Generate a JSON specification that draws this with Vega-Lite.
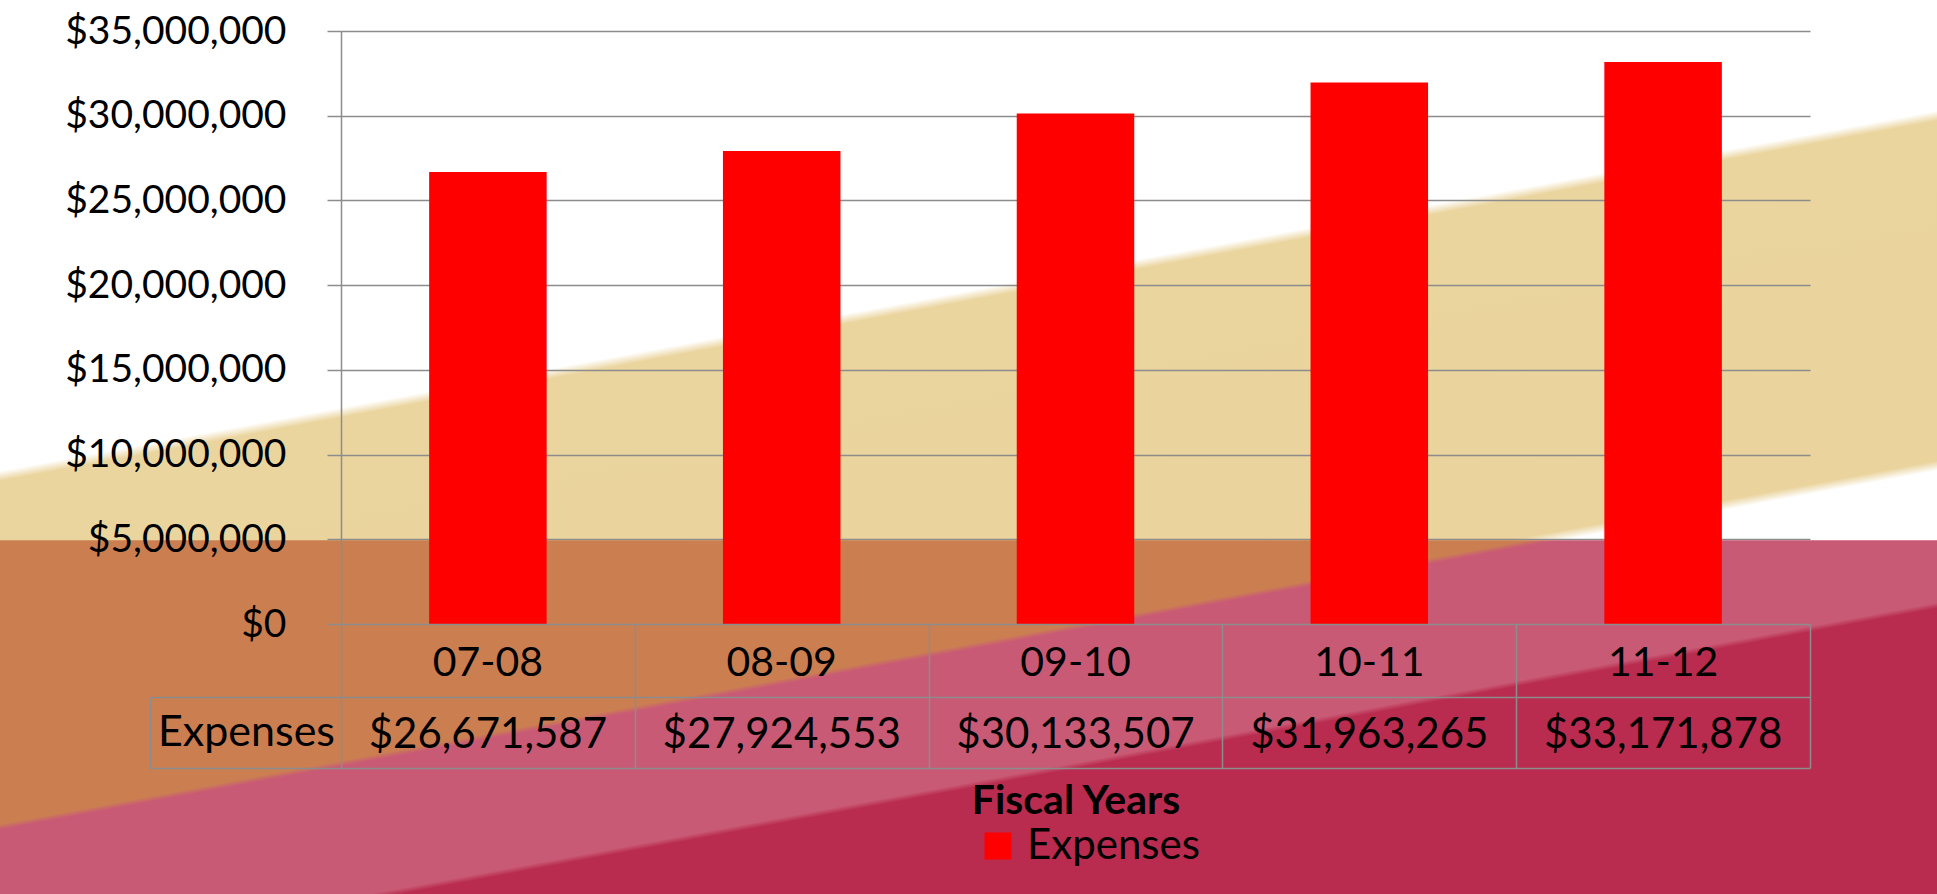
{
  "$schema": "https://vega.github.io/schema/vega-lite/v6.json",
  "width": 1937,
  "height": 894,
  "autosize": {"type": "none"},
  "padding": 0,
  "background": "#FFFFFF",
  "view": {
    "stroke": null,
    "fill": {
      "gradient": "linear",
      "x1": 0, "y1": 0, "x2": 0.4864, "y2": 1.2069,
      "stops": [
        {"offset": 0, "color": "#FFFFFF"},
        {"offset": 0.3755, "color": "#FFFFFF"},
        {"offset": 0.3835, "color": "#EBD59F"},
        {"offset": 0.6545, "color": "#EAD39C"},
        {"offset": 0.6625, "color": "#FFFFFF"},
        {"offset": 1, "color": "#FFFFFF"}
      ]
    }
  },
  "config": {"font": "Lato"},
  "data": {
    "values": [
      {"year": "07-08", "expenses": 26671587},
      {"year": "08-09", "expenses": 27924553},
      {"year": "09-10", "expenses": 30133507},
      {"year": "10-11", "expenses": 31963265},
      {"year": "11-12", "expenses": 33171878}
    ]
  },
  "layer": [
    {
      "data": {"values": [{"region": "lower"}]},
      "mark": {
        "type": "rect",
        "color": {
          "gradient": "linear",
          "x1": 0, "y1": 0, "x2": 1.0073, "y2": 0.9926,
          "stops": [
            {"offset": 0, "color": "#CB7F51"},
            {"offset": 0.397, "color": "#CB7F51"},
            {"offset": 0.405, "color": "#C95A75"},
            {"offset": 0.591, "color": "#C95A75"},
            {"offset": 0.599, "color": "#B92C4F"},
            {"offset": 1, "color": "#B92C4F"}
          ]
        }
      },
      "encoding": {
        "y": {
          "datum": 4950000,
          "type": "quantitative",
          "scale": {"domain": [0, 35000000], "range": [624, 31], "nice": false, "zero": false},
          "axis": {
            "orient": "left",
            "offset": -341,
            "title": null,
            "values": [0, 5000000, 10000000, 15000000, 20000000, 25000000, 30000000, 35000000],
            "format": "$,.0f",
            "labelFont": "Lato",
            "labelFontSize": 39,
            "labelColor": "#000000",
            "labelPadding": 41,
            "labelLimit": 0,
            "labelFlush": false,
            "labelOverlap": false,
            "labelBound": false,
            "tickSize": 14,
            "tickColor": "#8C8C8C",
            "tickWidth": 1.5,
            "domain": true,
            "domainColor": "#8C8C8C",
            "domainWidth": 1.5,
            "grid": false,
            "zindex": 1
          }
        },
        "y2": {"datum": -16000000}
      }
    },
    {
      "mark": {"type": "bar", "width": {"band": 0.4}},
      "encoding": {
        "x": {
          "field": "year",
          "type": "nominal",
          "sort": null,
          "scale": {"type": "band", "range": [341, 1810], "paddingInner": 0, "paddingOuter": 0},
          "axis": {
            "orient": "bottom",
            "offset": -270,
            "labels": false,
            "ticks": true,
            "tickBand": "extent",
            "tickSize": 144,
            "tickColor": "#8C8C8C",
            "tickWidth": 1.5,
            "domain": true,
            "domainColor": "#8C8C8C",
            "domainWidth": 1.5,
            "grid": false,
            "title": "Fiscal Years",
            "titleFont": "Lato",
            "titleFontSize": 41,
            "titleFontWeight": "bold",
            "titleColor": "#000000",
            "titlePadding": 13,
            "titleLimit": 0,
            "zindex": 1
          }
        },
        "y": {
          "field": "expenses",
          "type": "quantitative",
          "scale": {"domain": [0, 35000000], "range": [624, 31], "nice": false},
          "axis": {
            "orient": "left",
            "title": null,
            "values": [0, 5000000, 10000000, 15000000, 20000000, 25000000, 30000000, 35000000],
            "labels": false,
            "ticks": false,
            "domain": false,
            "grid": true,
            "gridColor": "#8C8C8C",
            "gridWidth": 1.5,
            "zindex": 0
          }
        },
        "color": {
          "datum": "Expenses",
          "type": "nominal",
          "scale": {"range": ["#FF0000"]},
          "legend": {
            "orient": "none",
            "legendX": 977,
            "legendY": 825,
            "title": null,
            "symbolType": "square",
            "symbolSize": 729,
            "symbolStrokeWidth": 0,
            "labelFont": "Lato",
            "labelFontSize": 42,
            "labelColor": "#000000",
            "labelOffset": 8,
            "labelLimit": 0,
            "padding": 0,
            "zindex": 1
          }
        }
      }
    },
    {
      "layer": [
        {
          "mark": {"type": "text", "font": "Lato", "fontSize": 41, "color": "#000000", "baseline": "middle", "align": "center", "dy": 2},
          "encoding": {
            "x": {"field": "year", "type": "nominal", "sort": null},
            "y": {
              "datum": "Year",
              "type": "nominal",
              "scale": {"type": "band", "domain": ["Year", "Expenses"], "range": [627, 768], "paddingInner": 0, "paddingOuter": 0},
              "axis": {
                "orient": "left",
                "offset": -150,
                "title": null,
                "labelExpr": "datum.value === 'Expenses' ? 'Expenses' : ''",
                "labelAlign": "center",
                "labelBaseline": "middle",
                "labelPadding": 95,
                "labelLimit": 0,
                "labelFont": "Lato",
                "labelFontSize": 43,
                "labelColor": "#000000",
                "tickSize": -191,
                "bandPosition": 1,
                "tickColor": "#8C8C8C",
                "tickWidth": 1.5,
                "domain": true,
                "domainColor": "#8C8C8C",
                "domainWidth": 1.5,
                "domainDash": [0, 70.5, 70.5, 20],
                "grid": true,
                "gridColor": "#8C8C8C",
                "gridWidth": 1.5,
                "zindex": 1
              }
            },
            "text": {"field": "year", "type": "nominal"}
          }
        },
        {
          "mark": {"type": "text", "font": "Lato", "fontSize": 42, "color": "#000000", "baseline": "middle", "align": "center", "dy": 2},
          "encoding": {
            "x": {"field": "year", "type": "nominal", "sort": null},
            "y": {"datum": "Expenses", "type": "nominal"},
            "text": {"field": "expenses", "type": "quantitative", "format": "$,.0f"}
          }
        }
      ]
    }
  ],
  "resolve": {"scale": {"y": "independent"}}
}
